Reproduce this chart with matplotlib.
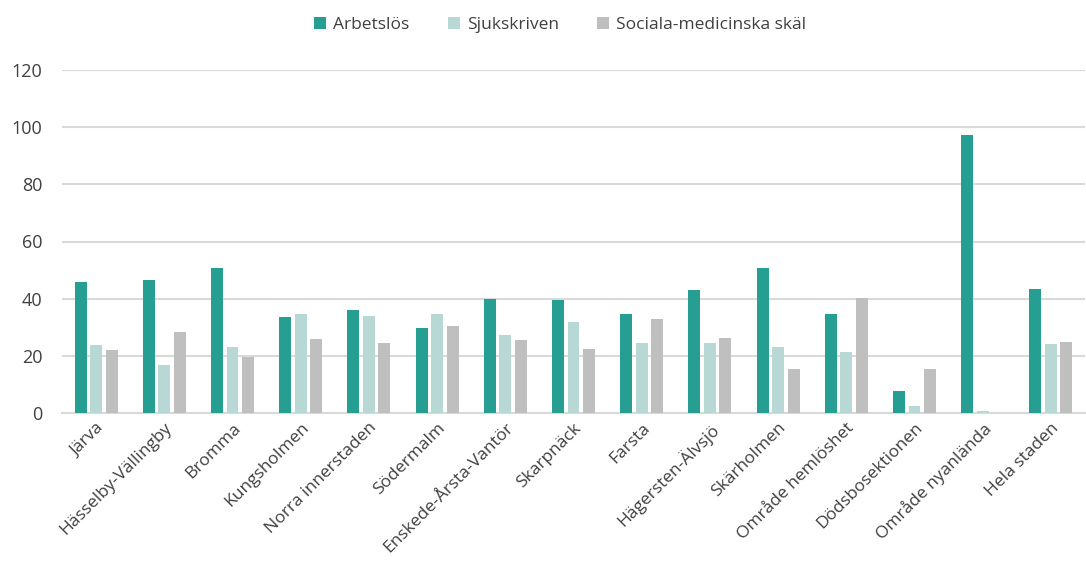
import numpy as np
import matplotlib.pyplot as plt

categories = ["Järva", "Hässelby-Vällingby", "Bromma", "Kungsholmen", "Norra innerstaden",
              "Södermalm", "Enskede-Årsta-Vantör", "Skarpnäck", "Farsta", "Hägersten-Älvsjö",
              "Skärholmen", "Område hemlöshet", "Dödsbosektionen", "Område nyanlända", "Hela staden"]
arbetslos = [46, 46.5, 50.7, 33.6, 36, 29.7, 39.9, 39.5, 34.6, 43, 50.7, 34.6, 7.7, 97.3, 43.3]
sjukskriven = [23.8, 16.8, 23, 34.6, 34, 34.6, 27.3, 31.9, 24.5, 24.5, 23, 21.3, 2.6, 0.7, 24.1]
sociala = [22, 28.5, 19.6, 25.9, 24.5, 30.4, 25.5, 22.4, 32.9, 26.2, 15.4, 40.2, 15.4, 0, 24.9]

series = [("Arbetslös", arbetslos, "#269E91"),
          ("Sjukskriven", sjukskriven, "#B8D8D5"),
          ("Sociala-medicinska skäl", sociala, "#BFBFBF")]

plt.rcParams['font.family'] = ['Open Sans', 'DejaVu Sans']

fig = plt.figure(figsize=(10.86, 5.69), dpi=100)
ax = fig.add_axes([62 / 1086, 1 - 413 / 569, 1023 / 1086, 343 / 569])

x = np.arange(len(categories))
w = 0.175
step = 0.228
for i, (name, vals, col) in enumerate(series):
    ax.bar(x + (i - 1) * step, vals, w, color=col, label=name, zorder=3)

ax.set_xlim(-0.5, len(categories) - 0.5)
ax.set_ylim(0, 120)
ax.set_yticks(range(0, 121, 20))
ax.yaxis.grid(True, color="#D9D9D9", linewidth=1.5, zorder=0)
for s in ["top", "right", "left"]:
    ax.spines[s].set_visible(False)
ax.spines["bottom"].set_color("#D9D9D9")
ax.spines["bottom"].set_linewidth(1.5)
ax.tick_params(axis="both", length=0, colors="#404040")
ax.tick_params(axis="y", labelsize=13, pad=14)
ax.tick_params(axis="x", labelsize=12.5, pad=5)
ax.set_xticks(x)
ax.set_xticklabels(categories, rotation=45, ha="right", rotation_mode="anchor")

ax.legend(loc="upper center", bbox_to_anchor=(0.487, 1.2), ncol=3, frameon=False,
          fontsize=12.5, handlelength=0.7, handleheight=0.7, columnspacing=2.2,
          handletextpad=0.4, labelcolor="#404040")

fig.savefig("out.png", dpi=100)
